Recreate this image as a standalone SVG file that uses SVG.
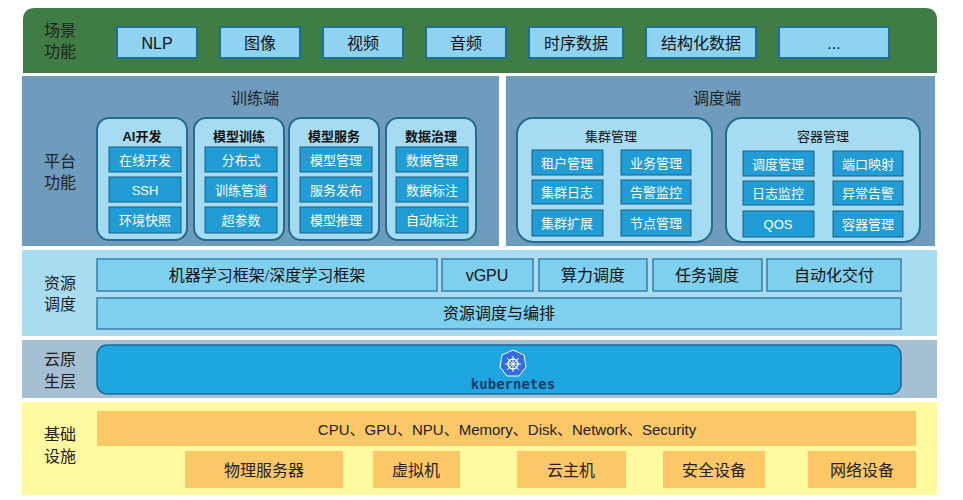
<svg xmlns="http://www.w3.org/2000/svg" width="963" height="500" viewBox="0 0 963 500">
<style>
text{font-family:"Liberation Serif","Noto Sans CJK SC",serif;text-anchor:middle;dominant-baseline:central}
.lab{font-size:16px;fill:#222}
.top{fill:#8fd3f1;stroke:#1b6f98;stroke-width:2}
.tt{font-size:16px;fill:#111}
.sub{fill:#a6dcf2;stroke:#236b91;stroke-width:2}
.ib{fill:#229cd4;stroke:#1a5f85;stroke-width:1}
.it{font-size:13px;fill:#fff}
.ih{font-size:13px;font-weight:bold;fill:#111}
.rb{fill:#7fcfef;stroke:#3a7fa8;stroke-width:1.5}
.ob{fill:#fcc766}
.ot{font-size:16px;fill:#222}
.sans{font-family:"Liberation Sans","Noto Sans CJK SC",sans-serif}
</style>
<rect width="963" height="500" fill="#fff"/>
<g id="scene">
<path d="M23,73 V20 Q23,8 35,8 H925 Q937,8 937,20 V73 Z" fill="#3f7d44"/>
<text class="lab" x="60" y="30">场景</text><text class="lab" x="60" y="51">功能</text>
<rect class="top" x="117" y="27" width="80" height="31"/><text class="tt sans" x="157" y="43">NLP</text>
<rect class="top" x="220" y="27" width="80" height="31"/><text class="tt" x="260" y="43">图像</text>
<rect class="top" x="323" y="27" width="80" height="31"/><text class="tt" x="363" y="43">视频</text>
<rect class="top" x="426" y="27" width="80" height="31"/><text class="tt" x="466" y="43">音频</text>
<rect class="top" x="529" y="27" width="94" height="31"/><text class="tt" x="576" y="43">时序数据</text>
<rect class="top" x="646" y="27" width="110" height="31"/><text class="tt" x="701" y="43">结构化数据</text>
<rect class="top" x="779" y="27" width="110" height="31"/><text class="tt sans" x="834" y="43">...</text>
</g>
<g id="platform">
<rect x="22" y="76" width="477" height="170" fill="#6f9bbd"/>
<rect x="506" y="76" width="429" height="170" fill="#6f9bbd"/>
<text class="lab" x="60" y="161">平台</text><text class="lab" x="60" y="182">功能</text>
<text class="lab" x="255" y="98">训练端</text>
<text class="lab" x="717" y="98">调度端</text>
</g>
<g id="train">
<rect class="sub" x="97" y="118" width="90" height="122" rx="12"/>
<text class="ih sans" x="142" y="136">AI开发</text>
<rect class="ib" x="109" y="147" width="72" height="25"/><text class="it" x="145" y="160">在线开发</text>
<rect class="ib" x="109" y="177" width="72" height="25"/><text class="it sans" x="145" y="190">SSH</text>
<rect class="ib" x="109" y="207" width="72" height="26"/><text class="it" x="145" y="220">环境快照</text>
<rect class="sub" x="194" y="118" width="90" height="122" rx="12"/>
<text class="ih" x="239" y="136">模型训练</text>
<rect class="ib" x="205" y="147" width="72" height="25"/><text class="it" x="241" y="160">分布式</text>
<rect class="ib" x="205" y="177" width="72" height="25"/><text class="it" x="241" y="190">训练管道</text>
<rect class="ib" x="205" y="207" width="72" height="26"/><text class="it" x="241" y="220">超参数</text>
<rect class="sub" x="289" y="118" width="90" height="122" rx="12"/>
<text class="ih" x="334" y="136">模型服务</text>
<rect class="ib" x="300" y="147" width="72" height="25"/><text class="it" x="336" y="160">模型管理</text>
<rect class="ib" x="300" y="177" width="72" height="25"/><text class="it" x="336" y="190">服务发布</text>
<rect class="ib" x="300" y="207" width="72" height="26"/><text class="it" x="336" y="220">模型推理</text>
<rect class="sub" x="386" y="118" width="90" height="122" rx="12"/>
<text class="ih" x="431" y="136">数据治理</text>
<rect class="ib" x="396" y="147" width="72" height="25"/><text class="it" x="432" y="160">数据管理</text>
<rect class="ib" x="396" y="177" width="72" height="25"/><text class="it" x="432" y="190">数据标注</text>
<rect class="ib" x="396" y="207" width="72" height="26"/><text class="it" x="432" y="220">自动标注</text>
</g>
<g id="sched">
<rect class="sub" x="517" y="118" width="195" height="124" rx="16"/>
<text class="ih" x="611" y="136" style="font-weight:normal">集群管理</text>
<rect class="ib" x="532" y="150" width="71" height="25"/><text class="it" x="567" y="163">租户管理</text>
<rect class="ib" x="621" y="150" width="70" height="25"/><text class="it" x="656" y="163">业务管理</text>
<rect class="ib" x="532" y="180" width="71" height="24"/><text class="it" x="567" y="192">集群日志</text>
<rect class="ib" x="621" y="180" width="70" height="24"/><text class="it" x="656" y="192">告警监控</text>
<rect class="ib" x="532" y="210" width="71" height="26"/><text class="it" x="567" y="223">集群扩展</text>
<rect class="ib" x="621" y="210" width="70" height="26"/><text class="it" x="656" y="223">节点管理</text>
<rect class="sub" x="726" y="118" width="194" height="124" rx="16"/>
<text class="ih" x="823" y="136" style="font-weight:normal">容器管理</text>
<rect class="ib" x="743" y="151" width="71" height="25"/><text class="it" x="778" y="164">调度管理</text>
<rect class="ib" x="833" y="151" width="70" height="25"/><text class="it" x="868" y="164">端口映射</text>
<rect class="ib" x="743" y="181" width="71" height="24"/><text class="it" x="778" y="193">日志监控</text>
<rect class="ib" x="833" y="181" width="70" height="24"/><text class="it" x="868" y="193">异常告警</text>
<rect class="ib" x="743" y="211" width="71" height="26"/><text class="it sans" x="778" y="224">QOS</text>
<rect class="ib" x="833" y="211" width="70" height="26"/><text class="it" x="868" y="224">容器管理</text>
</g>
<g id="resource">
<rect x="22" y="250" width="915" height="86" fill="#a8dcf0"/>
<text class="lab" x="60" y="283">资源</text><text class="lab" x="60" y="304">调度</text>
<rect class="rb" x="97" y="259" width="340" height="32"/><text class="tt" x="267" y="275">机器学习框架/深度学习框架</text>
<rect class="rb" x="442" y="259" width="91" height="32"/><text class="tt sans" x="487" y="275">vGPU</text>
<rect class="rb" x="539" y="259" width="108" height="32"/><text class="tt" x="593" y="275">算力调度</text>
<rect class="rb" x="653" y="259" width="109" height="32"/><text class="tt" x="707" y="275">任务调度</text>
<rect class="rb" x="767" y="259" width="134" height="32"/><text class="tt" x="834" y="275">自动化交付</text>
<rect class="rb" x="97" y="298" width="804" height="31"/><text class="tt" x="499" y="313">资源调度与编排</text>
</g>
<g id="cloud">
<rect x="22" y="340" width="915" height="58" fill="#a5bfd3"/>
<text class="lab" x="60" y="359">云原</text><text class="lab" x="60" y="381">生层</text>
<rect x="97" y="345" width="804" height="49" rx="10" fill="#1ea6e0" stroke="#1a6a98" stroke-width="1.5"/>
<polygon points="513,350 524,355 526,367 519,376 507,376 500,367 502,355" fill="#326ce5" stroke="#fff" stroke-width="1"/>
<circle cx="513" cy="364" r="5" fill="none" stroke="#fff" stroke-width="1.5"/>
<path d="M513,356 V372 M505,364 H521 M507,358 L519,370 M519,358 L507,370" stroke="#fff" stroke-width="1"/>
<text class="sans" x="513" y="384" style="font-size:14px;font-weight:bold;fill:#1b3b6a;font-family:'DejaVu Sans Mono',monospace">kubernetes</text>
</g>
<g id="infra">
<rect x="22" y="402" width="915" height="93" fill="#fff9a0"/>
<text class="lab" x="60" y="434">基础</text><text class="lab" x="60" y="456">设施</text>
<rect class="ob" x="97" y="411" width="819" height="35"/><text class="ot sans" x="507" y="429" style="font-size:15px">CPU、GPU、NPU、Memory、Disk、Network、Security</text>
<rect class="ob" x="185" y="451" width="158" height="37"/><text class="ot" x="264" y="470">物理服务器</text>
<rect class="ob" x="373" y="451" width="87" height="37"/><text class="ot" x="416" y="470">虚拟机</text>
<rect class="ob" x="517" y="451" width="109" height="37"/><text class="ot" x="571" y="470">云主机</text>
<rect class="ob" x="663" y="451" width="102" height="37"/><text class="ot" x="714" y="470">安全设备</text>
<rect class="ob" x="808" y="451" width="108" height="37"/><text class="ot" x="862" y="470">网络设备</text>
</g>
<g id="connectors"/>
</svg>
